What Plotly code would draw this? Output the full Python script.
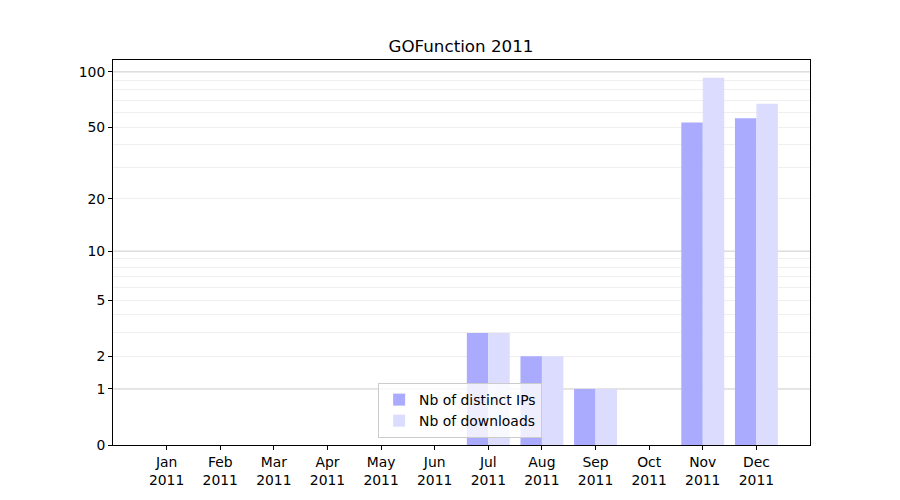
import numpy as np
import plotly.graph_objects as go

months = ["Jan", "Feb", "Mar", "Apr", "May", "Jun", "Jul", "Aug", "Sep", "Oct", "Nov", "Dec"]
year = "2011"
distinct_ips = [0, 0, 0, 0, 0, 0, 3, 2, 1, 0, 53, 56]
downloads = [0, 0, 0, 0, 0, 0, 3, 2, 1, 0, 93, 67]
y_tick_values = [0, 1, 2, 5, 10, 20, 50, 100]
y_minor_values = [2, 3, 4, 5, 6, 7, 8, 9, 20, 30, 40, 50, 60, 70, 80, 90]
y_major_grid = [1, 10, 100]
y_max = 116


def tr(v):
    return np.log10(1 + np.asarray(v, dtype=float))


x = list(range(len(months)))
font = dict(family="DejaVu Sans", size=13.9, color="black")

fig = go.Figure()
fig.add_trace(go.Bar(x=x, y=tr(distinct_ips), name="Nb of distinct IPs",
                     marker=dict(color="#aaaaff", line=dict(width=0))))
fig.add_trace(go.Bar(x=x, y=tr(downloads), name="Nb of downloads",
                     marker=dict(color="#dcdcff", line=dict(width=0))))

shapes = [dict(type="line", xref="paper", x0=0, x1=1, yref="y", y0=float(tr(v)), y1=float(tr(v)),
               line=dict(color="#cbcbcb", width=1), layer="below") for v in y_major_grid]

fig.update_layout(
    width=900, height=500,
    margin=dict(l=105, r=98, t=52, b=63),
    paper_bgcolor="white", plot_bgcolor="white",
    font=font,
    barmode="group", bargap=0.2, bargroupgap=0,
    title=dict(text="GOFunction 2011", x=0.5033, xanchor="center", y=0.924, yanchor="middle",
               font=dict(family="DejaVu Sans", size=16.7, color="black")),
    xaxis=dict(range=[-1, 12], tickvals=x, ticktext=[f"{m}<br>{year}" for m in months],
               ticks="outside", ticklen=4, tickcolor="black", showgrid=False, zeroline=False,
               showline=True, linecolor="black", linewidth=1, mirror=True, tickfont=font),
    yaxis=dict(range=[0, float(tr(y_max))], tickvals=list(tr(y_tick_values)),
               ticktext=[str(v) for v in y_tick_values],
               ticks="outside", ticklen=4, tickcolor="black", showgrid=False, zeroline=False,
               showline=True, linecolor="black", linewidth=1, mirror=True, tickfont=font,
               minor=dict(tickvals=list(tr(y_minor_values)), showgrid=True, gridcolor="#efefef",
                          gridwidth=1, ticks="")),
    legend=dict(x=0.498, y=0.018, xanchor="center", yanchor="bottom",
                bgcolor="rgba(255,255,255,0.8)", bordercolor="#cccccc", borderwidth=1,
                font=font, tracegroupgap=0),
    shapes=shapes,
    showlegend=True,
)

fig.write_html("out.html")
